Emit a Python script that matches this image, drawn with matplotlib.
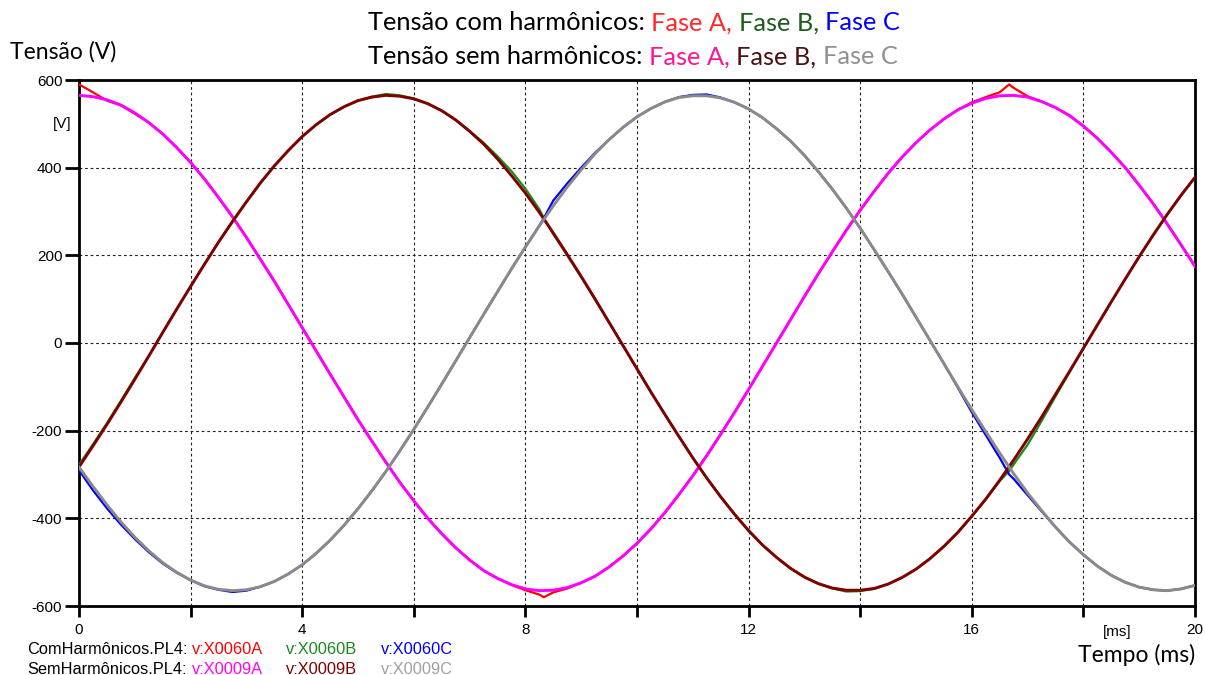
import matplotlib
matplotlib.use("Agg")
import matplotlib.pyplot as plt

# ---------------- data ----------------
t_clean = [i * 0.25 for i in range(81)]  # 0 .. 20 ms
va_clean = [565, 562, 555, 543, 525, 503, 477, 446, 412, 374, 332, 288, 241, 191, 141, 88, 35, -18,
            -71, -123, -175, -224, -272, -318, -360, -400, -435, -467, -495, -519, -537, -551, -561,
            -565, -564, -558, -547, -532, -511, -486, -457, -424, -387, -346, -303, -257, -208, -158,
            -106, -53, 0, 53, 106, 158, 208, 257, 303, 346, 387, 424, 457, 486, 511, 532, 547, 558,
            564, 565, 561, 551, 537, 519, 495, 467, 435, 400, 360, 318, 272, 224, 175]
vb_clean = [-283, -235, -186, -135, -83, -30, 24, 77, 129, 180, 230, 277, 322, 365, 404, 439, 471, 498,
            521, 539, 553, 561, 565, 563, 557, 546, 530, 509, 483, 454, 420, 382, 342, 298, 251, 202,
            152, 100, 47, -6, -59, -112, -163, -213, -262, -308, -351, -391, -428, -461, -489, -514,
            -534, -549, -559, -564, -564, -560, -550, -535, -516, -492, -464, -432, -395, -356, -313,
            -267, -219, -169, -117, -65, -12, 41, 94, 146, 197, 246, 293, 337, 378]
vc_clean = [-283, -327, -369, -408, -443, -474, -501, -523, -541, -554, -562, -565, -563, -556, -544,
            -527, -506, -480, -450, -416, -378, -337, -293, -246, -197, -146, -94, -41, 12, 65, 117,
            169, 219, 267, 313, 356, 395, 432, 464, 492, 516, 535, 550, 560, 564, 564, 559, 549, 534,
            514, 489, 461, 428, 391, 351, 308, 262, 213, 163, 112, 59, 6, -47, -100, -152, -202, -251,
            -298, -342, -382, -420, -454, -483, -509, -530, -546, -557, -563, -565, -561, -553]

t_harm = sorted([i * 0.25 for i in range(81)] + [8.33, 16.67])
va_harm = [590, 572, 553, 542, 523, 503, 477, 446, 412, 374, 332, 288, 241, 191, 141, 88, 35, -18,
           -71, -123, -175, -224, -272, -318, -360, -400, -435, -467, -495, -519, -537, -552, -564,
           -574, -580, -569, -560, -547, -532, -511, -486, -457, -424, -387, -346, -303, -257, -208,
           -158, -106, -53, 0, 53, 106, 158, 208, 257, 303, 346, 387, 424, 457, 486, 511, 532, 549,
           561, 572, 590, 582, 563, 551, 537, 519, 495, 467, 435, 400, 360, 318, 272, 224, 175]
vb_harm = [-278, -231, -183, -132, -80, -30, 24, 77, 129, 180, 230, 277, 322, 365, 404, 439, 471, 498,
           521, 539, 553, 562, 568, 565, 558, 546, 530, 509, 484, 457, 426, 392, 352, 305, 285, 248,
           200, 150, 99, 47, -6, -59, -112, -163, -213, -262, -308, -351, -391, -428, -461, -489,
           -514, -534, -549, -560, -567, -566, -561, -550, -535, -516, -492, -464, -432, -396, -357,
           -315, -292, -277, -232, -178, -122, -67, -12, 41, 94, 146, 197, 246, 293, 337, 378]
vc_harm = [-290, -336, -377, -414, -447, -477, -503, -524, -541, -555, -563, -568, -565, -556, -544,
           -527, -506, -480, -450, -416, -378, -337, -293, -246, -197, -146, -94, -41, 12, 65, 117,
           169, 219, 268, 285, 325, 364, 400, 434, 464, 492, 516, 535, 550, 561, 566, 567, 560, 549,
           534, 514, 489, 461, 428, 391, 351, 308, 262, 213, 163, 112, 59, 6, -47, -102, -158, -210,
           -262, -300, -310, -347, -384, -420, -454, -483, -509, -530, -546, -557, -563, -565, -561,
           -553]

x_ticks = [0, 2, 4, 6, 8, 10, 12, 14, 16, 18, 20]
x_labels = ["0", "", "4", "", "8", "", "12", "", "16", "", "20"]
y_ticks = [-600, -400, -200, 0, 200, 400, 600]
y_labels = ["-600", "-400", "-200", "0", "200", "400", "600"]

# ---------------- figure ----------------
fig = plt.figure(figsize=(12.05, 6.75), dpi=100)
ax = fig.add_axes([79 / 1205, 1 - 606 / 675, (1195 - 79) / 1205, (606 - 80) / 675])

c_red, c_green, c_blue = "#ff0000", "#1a8a1a", "#0000ff"
c_mag, c_brown, c_gray = "#ff00ff", "#800000", "#8a8a8a"

ax.plot(t_harm, va_harm, color=c_red, lw=1.6, zorder=3)
ax.plot(t_harm, vb_harm, color=c_green, lw=1.6, zorder=3)
ax.plot(t_harm, vc_harm, color=c_blue, lw=1.6, zorder=3)
ax.plot(t_clean, va_clean, color=c_mag, lw=2.1, zorder=4)
ax.plot(t_clean, vb_clean, color=c_brown, lw=2.1, zorder=4)
ax.plot(t_clean, vc_clean, color=c_gray, lw=2.1, zorder=4)

ax.set_xlim(0, 20)
ax.set_ylim(-600, 600)
ax.set_xticks(x_ticks)
ax.set_xticklabels(x_labels)
ax.set_yticks(y_ticks)
ax.set_yticklabels(y_labels)
for lab in ax.get_xticklabels() + ax.get_yticklabels():
    lab.set_fontfamily("Liberation Sans")
    lab.set_fontsize(11)
ax.tick_params(axis="both", direction="out", length=8, width=2, color="black", pad=4)
ax.tick_params(axis="y", length=10, pad=2)

for s in ax.spines.values():
    s.set_linewidth(2)
    s.set_color("black")
ax.grid(True, color="#222222", linestyle=(0, (2.5, 2.5)), linewidth=0.8)
ax.set_axisbelow(True)

# unit labels
ax.text(-0.13, 500, "[V]", ha="right", va="center", fontfamily="Liberation Sans", fontsize=11)
ax.text(18.6, -660, "[ms]", ha="center", va="center", fontfamily="Liberation Sans", fontsize=11)

# axis titles
fig.text(10 / 1205, 1 - 52 / 675, "Tensão (V)", ha="left", va="center", fontfamily="Lato", fontsize=16.5)
fig.text(1195 / 1205, 1 - 655 / 675, "Tempo (ms)", ha="right", va="center", fontfamily="Lato", fontsize=16.5)

fig.canvas.draw()
renderer = fig.canvas.get_renderer()


def chain(x_px, y_px, pieces, **kw):
    x = x_px
    for txt, col in pieces:
        t = fig.text(x / 1205, 1 - y_px / 675, txt, color=col, ha="left", va="center", **kw)
        bb = t.get_window_extent(renderer=renderer)
        x += bb.width


title_kw = dict(fontfamily="Lato", fontsize=18.3)
chain(368, 23, [("Tensão com harmônicos: ", "black"), ("Fase A, ", "#ff2a2a"),
                ("Fase B, ", "#1e5c1e"), ("Fase C", "#0000ff")], **title_kw)
chain(368, 57, [("Tensão sem harmônicos: ", "black"), ("Fase A, ", "#ff1493"),
                ("Fase B, ", "#4a1212"), ("Fase C", "#909090")], **title_kw)

leg_kw = dict(fontfamily="Liberation Sans", fontsize=11.8)
y1, y2 = 649, 669
fig.text(27 / 1205, 1 - y1 / 675, "ComHarmônicos.PL4:", ha="left", va="center", **leg_kw)
fig.text(27 / 1205, 1 - y2 / 675, "SemHarmônicos.PL4:", ha="left", va="center", **leg_kw)
for x, txt, col in [(192, "v:X0060A", c_red), (286, "v:X0060B", c_green), (381, "v:X0060C", c_blue)]:
    fig.text(x / 1205, 1 - y1 / 675, txt, color=col, ha="left", va="center", **leg_kw)
for x, txt, col in [(192, "v:X0009A", c_mag), (286, "v:X0009B", c_brown), (381, "v:X0009C", "#a0a0a0")]:
    fig.text(x / 1205, 1 - y2 / 675, txt, color=col, ha="left", va="center", **leg_kw)

fig.savefig("out.png", dpi=100)
